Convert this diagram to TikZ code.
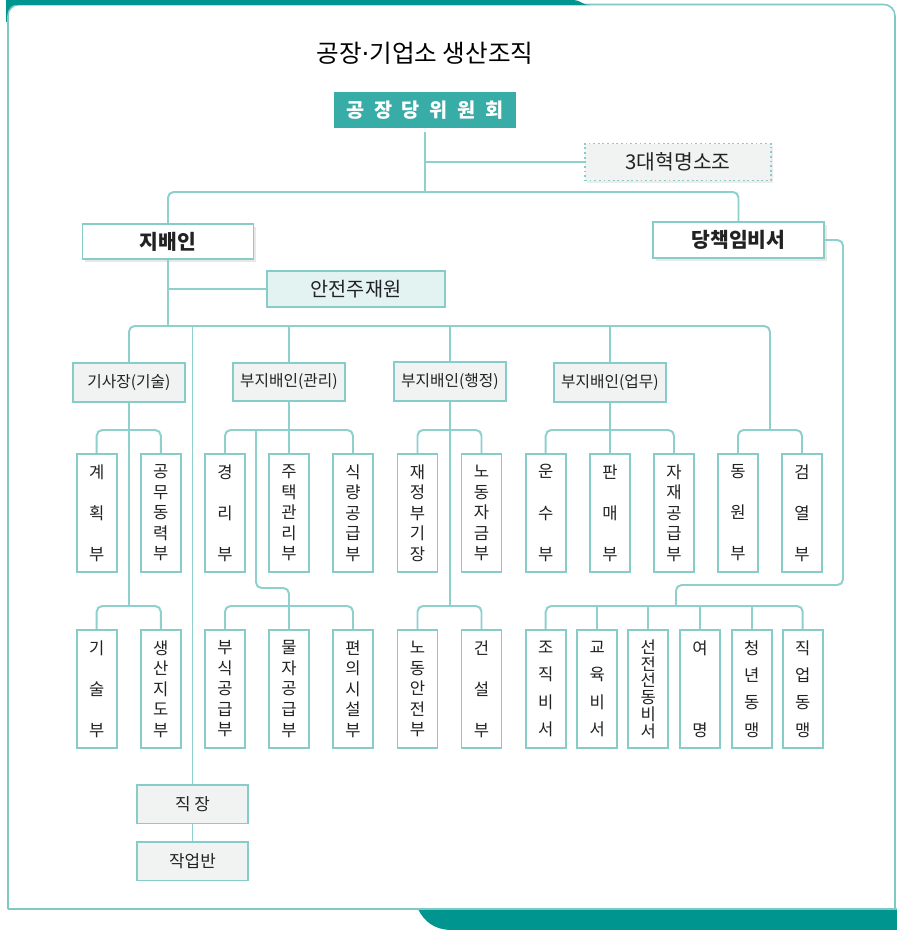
\documentclass[tikz,border=0pt]{standalone}
\usepackage{fontspec}
\setmainfont{Noto Sans CJK KR}
\newfontfamily\dotfont{DejaVu Sans}
\usepackage{xcolor}
\usepackage{tikz}
\usetikzlibrary{shadows}

\definecolor{darkteal}{HTML}{00958F}
\definecolor{councilc}{HTML}{38ACA7}
\definecolor{linkc}{HTML}{8DD0CC}
\definecolor{boxline}{HTML}{86CDC9}
\definecolor{framec}{HTML}{7FC9C5}
\definecolor{paleg}{HTML}{F1F3F2}
\definecolor{palet}{HTML}{E3F3F2}
\definecolor{ink}{HTML}{222222}

\begin{document}
\begin{tikzpicture}[x=0.025cm, y=-0.025cm,
    link/.style={draw=linkc, line width=1.4pt, rounded corners=4pt},
    box/.style={draw=boxline, line width=1.3pt, text=ink, inner sep=0pt},
    head/.style={box, fill=white, minimum width=4.275cm, minimum height=0.875cm,
        font=\bfseries\fontsize{14.5}{16}\selectfont,
        drop shadow={opacity=.18, shadow xshift=2pt, shadow yshift=-2pt}},
    deputy/.style={box, fill=paleg, minimum width=2.8cm, minimum height=0.97cm,
        font=\fontsize{11.2}{13}\selectfont},
    dept/.style={box, fill=white, minimum width=1cm, minimum height=2.95cm,
        align=center, font=\fontsize{11.8}{#1}\selectfont},
    dept/.default=14.6pt,
    unit/.style={box, fill=paleg, minimum width=2.79cm, minimum height=0.97cm,
        font=\fontsize{12}{14}\selectfont}]

    \useasboundingbox (0,0) rectangle (897,930);

    % frame
    \fill[darkteal] (6,0) rectangle (26,22);
    \fill[white, rounded corners=8pt] (8,909) -- (8,4.5) -- (895,4.5) -- (895,909);
    \draw[framec, line width=1.1pt, rounded corners=8pt] (8,909) -- (8,4.5) -- (895,4.5) -- (895,909);
    \fill[darkteal] (6,0) -- (574,0) .. controls (580,0) and (582,5) .. (590,5) -- (6,5) -- cycle;
    \fill[darkteal] (418,909) .. controls (424,921) and (434,930) .. (452,930) -- (897,930) -- (897,909) -- cycle;
    \draw[framec, line width=1.3pt] (8,909) -- (897,909);

    \node (title) at (425,53) [text=black, font=\fontsize{17.5}{20}\selectfont]
        {공장{\dotfont·}기업소 생산조직};

    \node (council) at (425,110) [fill=councilc, draw=white, line width=2.5pt, text=white,
        minimum width=4.65cm, minimum height=1cm, inner sep=0pt,
        font={\bfseries\fontsize{14}{16}\selectfont\spaceskip=7pt},
        drop shadow={opacity=.25, shadow xshift=1.5pt, shadow yshift=-1.5pt}] {공 장 당 위 원 회};
    \node (trio) at (678,162) [box, fill=paleg, dotted, line width=1pt,
        minimum width=4.65cm, minimum height=0.925cm, font=\fontsize{14.5}{16}\selectfont,
        drop shadow={opacity=.15, shadow xshift=1.5pt, shadow yshift=-1.5pt}] {3대혁명소조};

    \node (manager) at (168,241.5) [head] {지배인};
    \node (partysec) at (738.5,240) [head, minimum height=0.9cm] {당책임비서};
    \node (safety) at (356,289) [box, fill=palet, minimum width=4.45cm, minimum height=0.9cm,
        font=\fontsize{14}{16}\selectfont] {안전주재원};

    \node (chief) at (129,382.5) [deputy] {기사장(기술)};
    \node (mgmt) at (289,382) [deputy] {부지배인(관리)};
    \node (admin) at (450,381.5) [deputy] {부지배인(행정)};
    \node (biz) at (610,382.5) [deputy] {부지배인(업무)};

    % first row of departments
    \node (plan) at (96.7,513) [dept=29.2pt] {계\\획\\부};
    \node (power) at (160.8,513) [dept] {공\\무\\동\\력\\부};
    \node (acct) at (225,513) [dept=29.2pt] {경\\리\\부};
    \node (housing) at (289,513) [dept] {주\\택\\관\\리\\부};
    \node (food) at (353,513) [dept] {식\\량\\공\\급\\부};
    \node (finance) at (417.5,513) [dept] {재\\정\\부\\기\\장};
    \node (laborfund) at (481.5,513) [dept] {노\\동\\자\\금\\부};
    \node (transport) at (545.7,513) [dept=29.2pt] {운\\수\\부};
    \node (sales) at (610,513) [dept=29.2pt] {판\\매\\부};
    \node (supply) at (674,513) [dept] {자\\재\\공\\급\\부};
    \node (mobil) at (738,513) [dept=29.2pt] {동\\원\\부};
    \node (inspect) at (802,513) [dept=29.2pt] {검\\열\\부};

    % second row
    \node (tech) at (96.7,689) [dept=29.2pt] {기\\술\\부};
    \node (guide) at (160.8,689) [dept] {생\\산\\지\\도\\부};
    \node (sidefood) at (225,689) [dept] {부\\식\\공\\급\\부};
    \node (goods) at (289,689) [dept] {물\\자\\공\\급\\부};
    \node (amenity) at (353,689) [dept] {편\\의\\시\\설\\부};
    \node (laborsafe) at (417.5,689) [dept] {노\\동\\안\\전\\부};
    \node (build) at (481.5,689) [dept=29.2pt] {건\\설\\부};
    \node (orgsec) at (545.7,689) [dept=19.4pt] {조\\직\\비\\서};
    \node (edusec) at (597.3,689) [dept=19.4pt] {교\\육\\비\\서};
    \node (propsec) at (648.3,689) [dept=11.9pt] {선\\전\\선\\동\\비\\서};
    \node (women) at (700,689) [dept=58.3pt] {여\\명};
    \node (youth) at (751.7,689) [dept=19.4pt] {청\\년\\동\\맹};
    \node (union) at (802.7,689) [dept=19.4pt] {직\\업\\동\\맹};

    \node (workshop) at (192.5,804) [unit] {직 장};
    \node (team) at (192.5,861) [unit] {작업반};

    \coordinate (busA) at (425,192);
    \coordinate (busB) at (168,326);
    \coordinate (rowA) at (0,430);
    \coordinate (rowB) at (0,606);
    \coordinate (guardfork) at (770,430);
    \coordinate (detour) at (256,588);
    \coordinate (secturn) at (843,585);
    \coordinate (secfork) at (676,606);

    % top levels
    \draw[link] (council) -- (busA);
    \draw[link] (council.south |- trio.west) -- (trio.west);
    \draw[link] (manager) |- (busA) -| (partysec);
    \draw[link] (manager) -- (busB);
    \draw[link] (manager |- safety) -- (safety);
    \draw[link] (chief) |- (busB) -| (guardfork);
    \foreach \n in {workshop, mgmt, admin, biz}
        \draw[link] (\n |- busB) -- (\n);

    % deputies to departments
    \draw[link] (plan) |- (chief |- rowA) -| (power);
    \draw[link] (chief) -- (chief |- rowB);
    \draw[link] (tech) |- (chief |- rowB) -| (guide);

    \draw[link] (acct) |- (mgmt |- rowA) -| (food);
    \draw[link] (mgmt) -- (housing);
    \draw[link] (detour |- rowA) -- (detour) -| (goods);
    \draw[link] (sidefood) |- (goods |- rowB) -| (amenity);

    \draw[link] (finance) |- (admin |- rowA) -| (laborfund);
    \draw[link] (admin) -- (admin |- rowB);
    \draw[link] (laborsafe) |- (admin |- rowB) -| (build);

    \draw[link] (transport) |- (biz |- rowA) -| (supply);
    \draw[link] (biz) -- (sales);

    \draw[link] (mobil) |- (guardfork) -| (inspect);

    % party secretary
    \draw[link] (partysec) -| (secturn) -| (secfork);
    \draw[link] (orgsec) |- (secfork) -| (union);
    \foreach \n in {edusec, propsec, women, youth}
        \draw[link] (\n |- secfork) -- (\n);

    \draw[link] (workshop) -- (team);
\end{tikzpicture}
\end{document}
